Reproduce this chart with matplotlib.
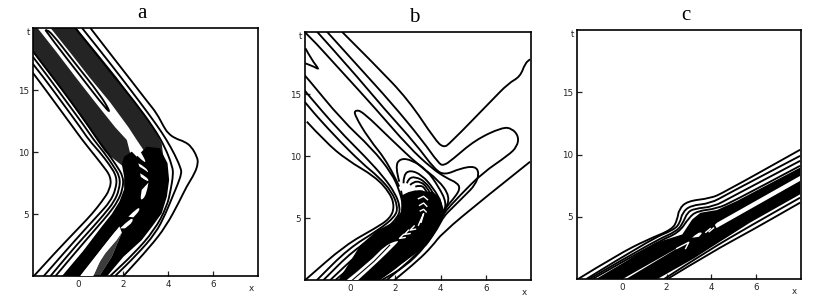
#!/usr/bin/env python3
"""Contour plots a, b, c in the (x, t) plane, lines digitised by eye."""
import matplotlib
matplotlib.use('Agg')
import matplotlib.pyplot as plt
from matplotlib.path import Path
from matplotlib.patches import PathPatch

W, H = 830, 306
titles = ['a', 'b', 'c']
x_ticks = [0, 2, 4, 6]
t_ticks = [5, 10, 15]

# ---- panel a: (x, t) ----
a_l1 = [(-1.96,0),(-.96,2),(.10,4),(.62,5),(1.06,6),(1.43,7),(1.47,8),(1.06,9),(.62,10),(.18,11),(-.22,12),(-1.03,14),(-1.84,16),(-2.7,18)]
a_l2 = [(-1.52,0),(-.56,2),(.43,4),(.94,5),(1.43,6),(1.68,7),(1.73,8),(1.39,9),(.96,10),(.47,11),(.10,12),(-.71,14),(-1.52,16),(-2.4,18)]
a_l3 = [(-1.22,0),(-.31,2),(.69,4),(1.17,5),(1.61,6),(1.84,7),(1.87,8),(1.53,9),(1.14,10),(.69,11),(.32,12),(-.49,14),(-1.30,16),(-2.14,18),(-3,20)]
a_l4 = [(-1.0,0),(-.07,2),(.88,4),(1.36,5),(1.76,6),(1.99,7),(2.02,8),(1.68,9),(1.28,10),(.87,11),(.50,12),(-.29,14),(-1.11,16),(-1.96,18),(-2.77,20)]
a_r1 = [(.55,20),(1.40,18),(2.26,16),(3.11,14),(3.50,13.12),(3.82,12),(4.01,11.5),(4.31,11.1),(4.75,10.83),(5.04,10.43),(5.29,9.62),(5.34,9.09),(5.19,8.28),(4.82,7.2),(4.53,6.1),(3.91,4),(3.2,2.35),(2.02,0)]
a_r2 = [(.18,20),(1.06,18),(1.92,16),(2.76,14),(3.50,12.18),(3.94,10.97),(4.31,9.76),(4.57,8.68),(4.6,8.28),(4.45,7.47),(4.2,6.4),(3.9,5.05),(3.45,3.44),(2.6,1.69),(1.65,0)]
a_r3 = [(-.12,20),(.77,18),(1.65,16),(2.54,14),(3.35,12),(3.86,10.43),(4.2,8.82),(4.23,8.15),(4.12,6.94),(3.95,5.59),(3.4,3.7),(2.5,1.83),(1.43,0)]
a_ridge = [(-1.45,19.84),(-1.08,18.9),(-.04,16.48),(1.28,13.39),(1.43,13.25),(.99,14.6),(-.19,17.29),(-1.22,19.7),(-1.45,19.84)]
a_solid = [(-.71,0),(.22,2),(1.06,4),(1.5,5),(1.84,6),(2.05,7),(2.05,8),(1.95,9),(2.05,9.62),(2.39,10.03),(2.61,9.62),(3.05,10.43),(3.64,10.3),(3.98,9.09),(4.05,7.74),(3.95,6.4),(3.72,5.05),(3.3,4),(2.83,2.89),(2.02,1.55),(1.3,0),(.95,0),(1.5,1.55),(1.95,3.5),(1.84,4),(1.35,2.89),(.77,1.55),(.1,0)]
a_gray1 = [(1.2,10),(.82,11),(.45,12),(-.32,14),(-1.15,16),(-1.99,18),(-2.1,18.9),(-2.1,20),(-1.8,20),(-.93,18),(-.09,16),(.77,14),(1.65,12),(2.17,10.97),(2.32,9.89),(2.02,8.82)]
a_gray2 = [(-1.22,20),(-.34,18),(.52,16),(1.43,14),(2.24,12),(2.61,10.97),(2.91,10.16),(3.79,9.62),(3.72,10.7),(3.35,12),(2.54,14),(1.73,16),(.84,18),(-.07,20)]
a_gray3 = [(.68,0),(1.06,1.55),(1.72,2.89),(1.95,3.5),(1.5,1.55),(.95,0)]
a_white = [
    [(2.29,10.97),(2.54,10.7),(2.83,9.89),(3.05,9.09),(2.83,9.35),(2.54,9.89),(2.32,10.57)],
    [(2.68,9.09),(2.98,8.82),(3.17,8.28),(2.98,8.55),(2.73,8.82)],
    [(2.76,8.28),(3.05,8.0),(3.17,7.61),(2.98,7.74),(2.79,8.0)],
    [(3.13,7.53),(3.05,6.53),(2.76,6.0),(2.83,6.94)],
    [(2.24,4.78),(2.68,5.59),(2.76,5.32),(2.46,4.73)],
    [(1.87,3.84),(2.39,4.78),(2.46,4.38),(2.09,3.84)],
    [(.1,0),(.77,1.55),(1.35,2.89),(1.84,4),(1.72,2.89),(1.06,1.55),(.68,0)],
]

# ---- panel b ----
b_l1 = [(-1.92,12.77),(-1.11,11.16),(-.15,9.68),(1.11,8.33),(1.77,6.99),(1.96,5.91),(1.77,4.97),(1.11,4.17),(-.22,2.82),(-1.99,0)]
b_l2 = [(-2.2,14.8),(-1.92,14.11),(-.66,11.56),(.52,9.41),(1.25,8.33),(1.84,7.12),(2.11,5.91),(1.99,5.11),(1.25,4.03),(-.07,2.55),(-1.47,0)]
b_l3 = [(-2.2,15.7),(-1.92,15.05),(-.52,12.1),(.66,9.95),(1.47,8.33),(1.99,6.99),(2.21,5.91),(2.14,5.11),(1.47,3.9),(.15,2.42),(-1.18,0)]
b_l4 = [(-2.2,16.9),(-1.92,16.34),(-.37,12.9),(.96,10.62),(1.84,8.6),(2.17,7.26),(2.36,5.91),(2.29,4.97),(1.55,3.63),(.37,2.15),(-.88,0)]
b_e1 = [(-.65,0),(.2,1.3),(.9,2.5),(1.5,3.6),(2.0,4.5),(2.3,5.3),(2.35,6.2),(2.25,7.2)]
b_t1 = [(-.37,20.03),(1.11,17.34),(2.58,14.52),(3.76,11.29),(4.13,10.67),(4.42,11.03),(6.27,14.5),(7.0,15.86),(7.52,16.4),(7.74,17.47),(7.96,17.8)]
b_t2 = [(-1.03,20.03),(.37,17.2),(1.84,14.25),(3.18,11.29),(3.91,9.41),(4.13,9.22),(4.5,9.68),(5.53,11.29),(6.72,12.31),(7.16,12.23),(7.46,11.56),(7.38,10.75),(7.01,10.08),(5.83,8.6),(4.87,6.85),(4.06,5.24),(3.61,3.76),(3.02,2.15),(1.62,0)]
b_t3 = [(-1.47,20.03),(-.07,17.2),(1.55,13.71),(2.88,11.02),(3.76,8.87),(4.2,8.47),(4.87,9.0),(5.53,9.19),(5.71,8.6),(5.53,7.66),(5.09,6.85),(4.5,5.78),(4.13,5.11),(3.91,4.3),(3.32,2.69),(2.44,1.08),(1.4,0)]
b_t4 = [(-2.05,20.03),(-1.92,19.9),(-.37,16.8),(1.11,13.84),(2.58,10.75),(3.61,9.0),(4.28,8.2),(4.72,7.85),(4.87,7.39),(4.65,6.72),(4.2,5.78),(3.91,4.7),(3.17,3.09),(2.29,1.34),(1.25,0)]
b_t5 = [(2.17,7.53),(1.7,9.41),(.81,11.42),(.19,13.31),(.22,13.71),(.55,13.58),(1.84,11.29),(3.02,9.27),(3.91,8.06),(4.42,6.72),(4.2,5.65),(3.76,4.3),(2.88,2.28),(2.06,1.08),(.96,0)]
b_low = [(7.96,9.54),(5.83,6.45),(4.06,3.76),(3.61,2.69),(3.02,1.61),(1.96,0)]
b_loop = [(-1.98,18.68),(-1.7,17.74),(-1.36,16.96),(-1.6,17.2),(-1.98,17.47)]
b_d1 = [(2.17,7.93),(1.99,9.14),(2.21,9.81),(2.73,9.68),(3.39,8.87),(3.91,7.53),(4.28,6.18),(4.06,5.11)]
b_d2 = [(2.36,7.8),(2.36,8.47),(2.65,8.87),(3.17,8.47),(3.69,7.39),(4.06,6.18),(3.98,5.38)]
b_d3 = [(2.51,7.8),(2.58,8.2),(2.88,8.33),(3.32,7.93),(3.69,6.99),(3.91,5.91)]
b_d4 = [(2.65,7.66),(2.8,7.93),(3.1,7.93),(3.39,7.53),(3.69,6.45)]
b_d5 = [(2.88,7.53),(3.1,7.66),(3.32,7.39),(3.54,6.45)]
b_d6 = [(2.95,7.12),(3.17,7.26),(3.35,6.85),(3.47,6.18)]
b_d7 = [(3.02,6.72),(3.17,6.85),(3.32,6.45)]
b_solid = [(-.52,0),(0,1.5),(.45,2.81),(1.2,4),(1.95,4.7),(2.25,5.5),(2.29,6.83),(2.58,7.09),(2.88,7.23),(3.68,7.09),(3.98,6.58),(4.2,5.38),(3.83,4),(3.39,2.81),(2.43,1.5),(1.3,0)]
b_channel = [(-.15,0),(.88,1.5),(1.55,2.81),(2.2,3.25),(1.98,2.81),(1.25,1.5),(.35,0)]
b_in = [(.1,0),(1.05,1.5),(1.75,2.81)]
b_wlines = [
    [(3.02,6.56),(3.25,6.75),(3.42,6.48)],
    [(3.07,6.02),(3.25,6.21),(3.39,5.94)],
    [(3.1,5.57),(3.25,5.7),(3.36,5.49)],
    [(3.02,4.42),(3.25,5.36),(3.14,4.66)],
    [(2.83,4.36),(2.65,4.02),(2.89,4.1)],
    [(2.58,4.02),(2.4,3.67),(2.65,3.75)],
    [(2.36,3.67),(2.18,3.35),(2.43,3.43)],
]

# ---- panel c ----
c_1 = [(-1.95,0),(-.18,1.96),(1.15,3.17),(2.26,3.98),(2.48,4.78),(2.55,5.59),(2.92,6.26),(3.96,6.48),(4.54,6.94),(7.96,10.38)]
c_2 = [(-1.58,0),(1.3,3.2),(2.33,3.95),(2.6,4.52),(2.7,5.32),(3.07,5.91),(3.96,6.07),(4.69,6.8),(7.96,9.89)]
c_3 = [(-1.45,0),(1.45,3.05),(2.48,3.84),(2.77,4.65),(2.92,5.32),(3.22,5.65),(4.1,5.81),(4.84,6.53),(7.96,9.49)]
c_4 = [(-1.3,0),(1.59,3.0),(2.55,3.71),(2.99,4.92),(3.36,5.46),(4.25,5.65),(4.99,6.26),(7.96,9.09)]
c_5 = [(1.89,0),(3.8,2.23),(5.72,4.25),(7.96,6.53)]
c_6 = [(2.04,0),(3.95,2.1),(5.87,3.98),(7.96,6.13)]
c_band1 = [(-1.15,0),(.28,1.53),(1.5,2.9),(2.7,3.58),(3.14,4.78),(3.51,5.32),(4.25,5.54),(5.13,6.26),(7.96,8.95),(7.96,8.28),(4.25,4.52),(3.95,3.98),(.04,0)]
c_band2 = [(.19,0),(2.63,2.63),(4.25,4.11),(7.96,7.88),(7.96,6.8),(5.72,4.52),(3.95,2.5),(3.22,1.65),(1.59,0)]
c_bridge = [(2.63,2.5),(3.07,4.25),(4.1,4.52),(4.25,4.03),(3.22,2.63)]
c_white = [
    [(3.14,3.31),(3.36,3.71),(3.63,3.76),(3.44,3.39)],
]
c_wlines = [
    [(2.45,2.45),(2.99,2.95),(2.85,2.45)],
    [(3.75,3.75),(3.95,4.05)],
    [(3.9,3.8),(4.1,4.1)],
]

panels = [
    dict(box=(33, 258, 28, 276),
         gray=[a_gray1, a_gray2], solid=[a_solid], white=a_white, wlines=[], inner=[],
         lines=[a_l1, a_l2, a_l3, a_l4, a_r1, a_r2, a_r3, a_ridge]),
    dict(box=(305, 531, 32, 280),
         gray=[], solid=[b_solid], white=[b_channel], wlines=b_wlines, inner=[b_in],
         lines=[b_l1, b_l2, b_l3, b_l4, b_e1, b_t1, b_t2, b_t3, b_t4, b_t5, b_low, b_loop,
                b_d1, b_d2, b_d3, b_d4, b_d5, b_d6, b_d7]),
    dict(box=(577, 801, 30, 279),
         gray=[], solid=[c_band1, c_band2, c_bridge], white=c_white, wlines=c_wlines, inner=[],
         lines=[c_1, c_2, c_3, c_4, c_5, c_6]),
]


def smooth_path(pts):
    verts, codes = [pts[0]], [Path.MOVETO]
    for i in range(1, len(pts) - 1):
        mid = ((pts[i][0] + pts[i + 1][0]) / 2, (pts[i][1] + pts[i + 1][1]) / 2)
        verts += [pts[i], mid]
        codes += [Path.CURVE3, Path.CURVE3]
    verts.append(pts[-1])
    codes.append(Path.LINETO)
    return Path(verts, codes)


fig = plt.figure(figsize=(W / 100, H / 100), dpi=100)

for name, p in zip(titles, panels):
    l, r, top, bot = p['box']
    ax = fig.add_axes([l / W, 1 - bot / H, (r - l) / W, (bot - top) / H])
    ax.set_xlim(-2, 8)
    ax.set_ylim(0, 20)

    for poly in p['gray']:
        xs, ts = zip(*poly)
        ax.fill(xs, ts, color='#242424', lw=0, zorder=1)
    if name == 'a':
        xs, ts = zip(*a_gray3)
        ax.fill(xs, ts, color='#3c3c3c', lw=0, zorder=1)
    for poly in p['solid']:
        xs, ts = zip(*poly)
        ax.fill(xs, ts, color='black', lw=0, zorder=2)
    for poly in p['white']:
        ax.add_patch(PathPatch(smooth_path(poly), fc='white', ec='none', zorder=3))
    for line in p['wlines']:
        xs, ts = zip(*line)
        ax.plot(xs, ts, color='white', lw=1.0, zorder=5)
    for line in p['inner']:
        xs, ts = zip(*line)
        ax.plot(xs, ts, color='black', lw=0.8, zorder=4)
    for line in p['lines']:
        ax.add_patch(PathPatch(smooth_path(line), fc='none', ec='black', lw=1.35, zorder=4))

    ax.set_xticks(x_ticks)
    ax.set_yticks(t_ticks)
    ax.tick_params(direction='in', length=3.5, width=0.9, labelsize=6.3, pad=3, colors='#222222')
    for s in ax.spines.values():
        s.set_linewidth(1.2)
    ax.text(-2.2, 19.6, 't', fontsize=6.3, ha='center', va='center', color='#222222')
    ax.text(7.72, -1.0, 'x', fontsize=6.3, ha='center', va='center', color='#222222')
    ax.text(2.85, 21.15, name, fontsize=15, family='Liberation Serif', ha='center', va='center', clip_on=False)

fig.savefig('out.png', dpi=100)
